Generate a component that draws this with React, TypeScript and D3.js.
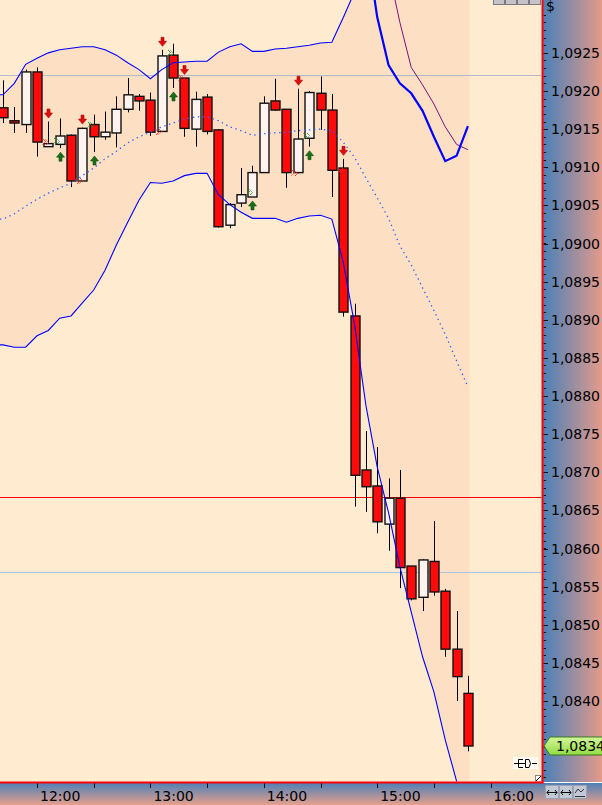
import React from "react";
import * as d3 from "d3";

// ---------- data ----------
const barTimes = [
  "11:42", "11:48", "11:54", "12:00", "12:06", "12:12", "12:18", "12:24", "12:30", "12:36",
  "12:42", "12:48", "12:54", "13:00", "13:06", "13:12", "13:18", "13:24", "13:30", "13:36",
  "13:42", "13:48", "13:54", "14:00", "14:06", "14:12", "14:18", "14:24", "14:30", "14:36",
  "14:42", "14:48", "14:54", "15:00", "15:06", "15:12", "15:18", "15:24", "15:30", "15:36",
  "15:42", "15:48",
];
const opens = [
  1.09178, 1.09161, 1.09156, 1.09225, 1.09127, 1.0913, 1.09142, 1.09082, 1.09156, 1.0914,
  1.09145, 1.09176, 1.09193, 1.09188, 1.09147, 1.09247, 1.09217, 1.0915, 1.09192, 1.09149,
  1.09024, 1.09053, 1.09061, 1.09093, 1.09187, 1.09176, 1.09093, 1.09138, 1.09197, 1.09175,
  1.09099, 1.08905, 1.08703, 1.08682, 1.08632, 1.08666, 1.08577, 1.08536, 1.08583, 1.08544,
  1.08468, 1.0841,
];
const highs = [
  1.09214, 1.09179, 1.09228, 1.09231, 1.0916, 1.09164, 1.09143, 1.09152, 1.09169, 1.09173,
  1.09193, 1.09217, 1.09196, 1.09198, 1.09254, 1.09262, 1.09217, 1.09199, 1.09196, 1.0915,
  1.09053, 1.09099, 1.09102, 1.09193, 1.09216, 1.09176, 1.09203, 1.092, 1.09219, 1.09196,
  1.09111, 1.08921, 1.08754, 1.08733, 1.08692, 1.08703, 1.08577, 1.08586, 1.08636, 1.08547,
  1.08518, 1.08433,
];
const lows = [
  1.09158, 1.09145, 1.09145, 1.09114, 1.09127, 1.09125, 1.09074, 1.09082, 1.0912, 1.09136,
  1.09126, 1.09172, 1.09174, 1.09141, 1.09147, 1.09204, 1.0914, 1.09127, 1.09143, 1.09021,
  1.0902, 1.09048, 1.09061, 1.09093, 1.09174, 1.09073, 1.09092, 1.09127, 1.09149, 1.09061,
  1.08904, 1.08655, 1.08648, 1.0862, 1.08597, 1.08548, 1.08532, 1.08518, 1.08538, 1.08458,
  1.084, 1.08334,
];
const closes = [
  1.09165, 1.09158, 1.09225, 1.09133, 1.09131, 1.09141, 1.09082, 1.09151, 1.0914, 1.09146,
  1.09176, 1.09195, 1.09187, 1.09146, 1.09246, 1.09217, 1.09151, 1.09189, 1.09147, 1.09022,
  1.09051, 1.09064, 1.09093, 1.09184, 1.09175, 1.09093, 1.09137, 1.09198, 1.09175, 1.09096,
  1.0891, 1.08696, 1.08681, 1.08635, 1.08666, 1.08575, 1.08534, 1.08585, 1.08543, 1.08468,
  1.08432, 1.08341,
];
const upperBand = [
  1.09195, 1.0921, 1.09235, 1.09243, 1.0925, 1.09254, 1.09256, 1.09258, 1.09258, 1.09254,
  1.09247, 1.09237, 1.09228, 1.09216, 1.09228, 1.09237, 1.09238, 1.09239, 1.09239, 1.09251,
  1.09258, 1.09262, 1.09252, 1.09252, 1.09255, 1.09256, 1.09258, 1.0926, 1.09263, 1.09264,
  1.09296, 1.0933, 1.09377, 1.09412, 1.0942, 1.09418, 1.09427, 1.09426, 1.09411, 1.09414,
  1.09397, 1.09393,
];
const middleBand = [
  1.09032, 1.09039, 1.09049, 1.09058, 1.09066, 1.09073, 1.09079, 1.09089, 1.09099, 1.09111,
  1.09121, 1.09132, 1.0914, 1.09146, 1.09153, 1.09158, 1.09163, 1.09166, 1.09166, 1.09161,
  1.09153, 1.09148, 1.09142, 1.09144, 1.09145, 1.09146, 1.09148, 1.09149, 1.0915, 1.09148,
  1.09133, 1.09113, 1.09086, 1.0906, 1.09033, 1.08997, 1.08972, 1.08942, 1.08912, 1.08881,
  1.08846, 1.08812,
];
const lowerBand = [
  1.08867, 1.08864, 1.08864, 1.08879, 1.08886, 1.08902, 1.08905, 1.08922, 1.08939, 1.08965,
  1.08998, 1.09028, 1.09057, 1.0908, 1.09079, 1.09082, 1.09089, 1.09092, 1.09092, 1.09064,
  1.09051, 1.09041, 1.09033, 1.09033, 1.09033, 1.09028, 1.09033, 1.09036, 1.09037, 1.09032,
  1.08976, 1.08894, 1.08788, 1.08707, 1.08647, 1.08576, 1.08517, 1.08458, 1.08412, 1.08349,
  1.08295, 1.08231,
];
const fastLineStart = 32;
const fastLine = [1.09398, 1.09297, 1.09234, 1.0921, 1.09197, 1.09174, 1.0914, 1.09108, 1.09115, 1.09154];
const slowLineStart = 33;
const slowLine = [1.09424, 1.09359, 1.0929, 1.09231, 1.09208, 1.09183, 1.09153, 1.0913, 1.09123];

const sellSignals = [4, 7, 14, 16, 26, 30];
const buySignals = [5, 8, 15, 22, 27];
const sellMarks = [3, 6, 13, 15, 25, 29];
const buyMarks = [4, 7, 14, 21, 26];

const grayLevel = 1.09221;
const redLevel = 1.08667;
const blueLevel = 1.08569;

const priceLabels = [
  1.0925, 1.092, 1.0915, 1.091, 1.0905, 1.09, 1.0895, 1.089, 1.0885, 1.088,
  1.0875, 1.087, 1.0865, 1.086, 1.0855, 1.085, 1.0845, 1.084,
];
const timeLabels = ["12:00", "13:00", "14:00", "15:00", "16:00"];

// ---------- component ----------
const FONT = "'DejaVu Sans', Tahoma, sans-serif";

function toDate(s: string) {
  const [h, m] = s.split(":").map(Number);
  return new Date(2024, 0, 15, h, m);
}

export default function App() {
  const W = 602;
  const H = 805;
  const PR = 541.5;
  const PB = 781.5;

  const x = d3.scaleTime().domain([toDate("12:00"), toDate("16:00")]).range([37, 490.6]);
  const y = d3.scaleLinear().domain([1.084, 1.092]).range([701, 91]);
  const yFull = d3.scaleLinear().domain([y.invert(PB), y.invert(0)]).range([PB, 0]);
  const fmt = (v: number) => d3.format(".4f")(v).replace(".", ",");

  const n = barTimes.length;
  const xs = barTimes.map((t) => x(toDate(t)));

  type BP = { x: number; u: number; l: number };
  const bandPts: BP[] = [
    { x: 0, u: upperBand[0], l: lowerBand[0] },
    ...d3.range(n).map((i) => ({ x: xs[i], u: upperBand[i], l: lowerBand[i] })),
    { x: xs[n - 1] + 1.5, u: upperBand[n - 1], l: lowerBand[n - 1] },
  ];
  const area = d3.area<BP>().x((d) => d.x).y0((d) => y(d.l)).y1((d) => y(d.u));
  const line = d3.line<[number, number]>().x((d) => d[0]).y((d) => y(d[1]));

  const withEdge = (vals: number[]): [number, number][] => [
    [0, vals[0]],
    ...vals.map((v, i) => [xs[i], v] as [number, number]),
  ];
  const upperPath = line(withEdge(upperBand)) || "";
  const lowerPath = line(withEdge(lowerBand)) || "";
  const midPath = line(withEdge(middleBand)) || "";
  const fastPath = line(fastLine.map((v, i) => [xs[fastLineStart + i], v] as [number, number])) || "";
  const slowPath = line(slowLine.map((v, i) => [xs[slowLineStart + i], v] as [number, number])) || "";

  const timeTicks = d3.timeMinute
    .every(30)!
    .range(toDate("11:30"), toDate("17:00"))
    .map((d) => x(d))
    .filter((px) => px > 0 && px < PR);

  const minorPrice = yFull.ticks(100).map((v) => yFull(v)).filter((py) => py > 12 && py < PB - 2);

  const lastY = y(closes[n - 1]);

  return (
    <svg
      width={W}
      height={H}
      style={{ position: "absolute", left: 0, top: 0, display: "block" }}
      fontFamily={FONT}
    >
      <defs>
        <linearGradient id="gRight" x1="0" y1="0" x2="1" y2="0">
          <stop offset="0" stopColor="#4a80b8" />
          <stop offset="1" stopColor="#e39a8a" />
        </linearGradient>
        <linearGradient id="gBottom" x1="0" y1="0" x2="0" y2="1">
          <stop offset="0" stopColor="#4f80b6" />
          <stop offset="1" stopColor="#e6a08c" />
        </linearGradient>
        <linearGradient id="gLast" x1="0" y1="0" x2="0" y2="1">
          <stop offset="0" stopColor="#d2f79a" />
          <stop offset="1" stopColor="#92dc44" />
        </linearGradient>
        <pattern id="chkRed" width="2" height="2" patternUnits="userSpaceOnUse">
          <rect width="1" height="1" fill="#ff2020" />
          <rect x="1" y="1" width="1" height="1" fill="#ff2020" />
        </pattern>
        <pattern id="chkGreen" width="2" height="2" patternUnits="userSpaceOnUse">
          <rect width="1" height="1" fill="#1e8a1e" />
          <rect x="1" y="1" width="1" height="1" fill="#1e8a1e" />
        </pattern>
        <clipPath id="plotClip">
          <rect x={0} y={0} width={PR} height={PB} />
        </clipPath>
      </defs>

      {/* plot background */}
      <rect x={0} y={0} width={PR} height={PB} fill="#ffebcf" />

      <g clipPath="url(#plotClip)">
        {/* band fill */}
        <path d={area(bandPts) || ""} fill="#fde0c4" />

        {/* reference levels */}
        <line x1={0} x2={PR} y1={Math.round(y(grayLevel)) + 0.5} y2={Math.round(y(grayLevel)) + 0.5} stroke="#b6bac8" strokeWidth={1} />
        <line x1={0} x2={PR} y1={Math.round(y(redLevel)) + 0.5} y2={Math.round(y(redLevel)) + 0.5} stroke="#ff0000" strokeWidth={1} />
        <line x1={0} x2={PR} y1={Math.round(y(blueLevel)) + 0.5} y2={Math.round(y(blueLevel)) + 0.5} stroke="#a8c4e4" strokeWidth={1} />

        {/* candles */}
        {d3.range(n).map((i) => {
          const cx = Math.round(xs[i]) + 0.5;
          const up = closes[i] >= opens[i];
          const top = y(Math.max(opens[i], closes[i]));
          const bot = y(Math.min(opens[i], closes[i]));
          const h = Math.max(2, bot - top);
          return (
            <g key={"c" + i}>
              <line x1={cx} x2={cx} y1={y(highs[i])} y2={y(lows[i])} stroke="#000" strokeWidth={1} />
              <rect
                x={cx - 4.5}
                y={top}
                width={9}
                height={h}
                fill={up ? "#fff3ef" : "#ff0a0a"}
                stroke="#111"
                strokeWidth={1.4}
              />
            </g>
          );
        })}

        {/* bands */}
        <path d={upperPath} fill="none" stroke="#0000ff" strokeWidth={1.1} />
        <path d={lowerPath} fill="none" stroke="#0000ff" strokeWidth={1.1} />
        <path d={midPath} fill="none" stroke="#3360ff" strokeWidth={1.3} strokeDasharray="1.4 3.6" />
        <path d={slowPath} fill="none" stroke="#80107a" strokeWidth={1} />
        <path d={fastPath} fill="none" stroke="#0000ff" strokeWidth={2.2} />

        {/* sell arrows */}
        {sellSignals.map((i) => {
          const cx = Math.round(xs[i]) + 0.5;
          const tip = y(highs[i]) - 3.5;
          return (
            <path
              key={"s" + i}
              d={`M${cx - 1.5},${tip - 9} L${cx + 1.5},${tip - 9} L${cx + 1.5},${tip - 5} L${cx + 4},${tip - 5} L${cx},${tip} L${cx - 4},${tip - 5} L${cx - 1.5},${tip - 5} Z`}
              fill="#e00c0c"
              stroke="#b00000"
              strokeWidth={0.6}
            />
          );
        })}
        {/* buy arrows */}
        {buySignals.map((i) => {
          const cx = Math.round(xs[i]) + 0.5;
          const tip = y(lows[i]) + 4;
          return (
            <path
              key={"b" + i}
              d={`M${cx - 1.5},${tip + 9} L${cx + 1.5},${tip + 9} L${cx + 1.5},${tip + 5} L${cx + 4},${tip + 5} L${cx},${tip} L${cx - 4},${tip + 5} L${cx - 1.5},${tip + 5} Z`}
              fill="#1a701a"
              stroke="#0e500e"
              strokeWidth={0.6}
            />
          );
        })}
        {/* small checkered markers */}
        {sellMarks.map((i) => {
          const mx = Math.round(xs[i]) + 5;
          const my = Math.round(y(closes[i]));
          return (
            <path
              key={"sm" + i}
              d={`M${mx},${my - 3} L${mx + 3},${my} L${mx},${my + 3} L${mx + 1.5},${my + 3} L${mx + 4.5},${my} L${mx + 1.5},${my - 3} Z M${mx + 3},${my - 3} L${mx + 6},${my} L${mx + 3},${my + 3} L${mx + 4.5},${my + 3} L${mx + 7},${my} L${mx + 4.5},${my - 3} Z`}
              fill="url(#chkRed)"
            />
          );
        })}
        {buyMarks.map((i) => {
          const mx = Math.round(xs[i]) + 5;
          const my = Math.round(y(closes[i])) - 3;
          return (
            <path
              key={"bm" + i}
              d={`M${mx},${my - 3} L${mx + 3},${my} L${mx},${my + 3} L${mx + 1.5},${my + 3} L${mx + 4.5},${my} L${mx + 1.5},${my - 3} Z M${mx + 3},${my - 3} L${mx + 6},${my} L${mx + 3},${my + 3} L${mx + 4.5},${my + 3} L${mx + 7},${my} L${mx + 4.5},${my - 3} Z`}
              fill="url(#chkGreen)"
            />
          );
        })}

        {/* small icons in plot */}
        <rect x={513} y={757} width={25} height={12} fill="#fffaf2" />
        <path d="M514,763.5 H518 M532,763.5 H537" stroke="#000" strokeWidth={1} />
        <path d="M523,759.5 H518.5 V767.5 H523 M519,763.5 H526" stroke="#000" strokeWidth={1} fill="none" />
        <path d="M525.5,759.5 H529 Q532,763.5 529,767.5 H525.5 Z" stroke="#000" strokeWidth={1} fill="none" />
        <rect x={535.5} y={775.5} width={6} height={6} fill="#fff" stroke="#888" strokeWidth={1} />
        <path d="M536,781 L541,776" stroke="#000" strokeWidth={1} />
        {/* top window buttons */}
        {[493, 505, 517, 529].map((bx) => (
          <rect key={"tb" + bx} x={bx + 0.5} y={-6} width={11} height={10.5} fill="#c4c4c8" stroke="#7a7a80" strokeWidth={1} />
        ))}
      </g>

      {/* right price axis */}
      <rect x={543} y={0} width={W - 543} height={782} fill="url(#gRight)" />
      {minorPrice.map((py, k) => (
        <line key={"mt" + k} x1={543.5} x2={546} y1={Math.round(py) + 0.5} y2={Math.round(py) + 0.5} stroke="#111" strokeWidth={1} />
      ))}
      {priceLabels.map((v) => (
        <g key={"pl" + v}>
          <line x1={543.5} x2={548} y1={Math.round(y(v)) + 0.5} y2={Math.round(y(v)) + 0.5} stroke="#111" strokeWidth={1} />
          <text x={551} y={y(v) + 5} fontSize={14} fill="#000">
            {fmt(v)}
          </text>
        </g>
      ))}
      <text x={546} y={11} fontSize={14} fill="#000">$</text>

      {/* last price tag */}
      <path
        d={`M544,${lastY} L550,${lastY - 9} L603,${lastY - 9} L603,${lastY + 9} L550,${lastY + 9} Z`}
        fill="url(#gLast)"
        stroke="#3a7a1a"
        strokeWidth={1}
      />
      <text x={556} y={lastY + 5} fontSize={14} fill="#000">
        {fmt(closes[n - 1])}
      </text>

      {/* bottom time axis */}
      <rect x={0} y={783} width={W} height={H - 783} fill="url(#gBottom)" />
      {timeTicks.map((px, k) => (
        <line key={"tt" + k} x1={Math.round(px) + 0.5} x2={Math.round(px) + 0.5} y1={783} y2={788} stroke="#111" strokeWidth={1} />
      ))}
      {timeLabels.map((t) => (
        <text key={"tl" + t} x={x(toDate(t)) + 3} y={801} fontSize={14} fill="#000">
          {t}
        </text>
      ))}

      {/* bottom-right buttons */}
      {[545, 559, 573].map((bx, k) => (
        <g key={"bb" + k}>
          <rect x={bx + 0.5} y={785.5} width={13} height={13} fill="#c2c8d6" stroke="#9aa2b4" strokeWidth={1} />
          {k < 2 && <path d={`M${bx + 2},792.5 H${bx + 12} M${bx + 4},790 L${bx + 2},792.5 L${bx + 4},795 M${bx + 10},790 L${bx + 12},792.5 L${bx + 10},795`} stroke="#000" strokeWidth={1} fill="none" />}
          {k === 2 && <path d={`M${bx + 2},793 L${bx + 5},789 L${bx + 8},792 L${bx + 11},789 M${bx + 2},796.5 H${bx + 12}`} stroke="#333" strokeWidth={1} fill="none" />}
        </g>
      ))}

      {/* red frame lines */}
      <rect x={541.5} y={0} width={2} height={783.5} fill="#ff0000" />
      <rect x={0} y={781.5} width={543.5} height={2} fill="#ff0000" />
    </svg>
  );
}
